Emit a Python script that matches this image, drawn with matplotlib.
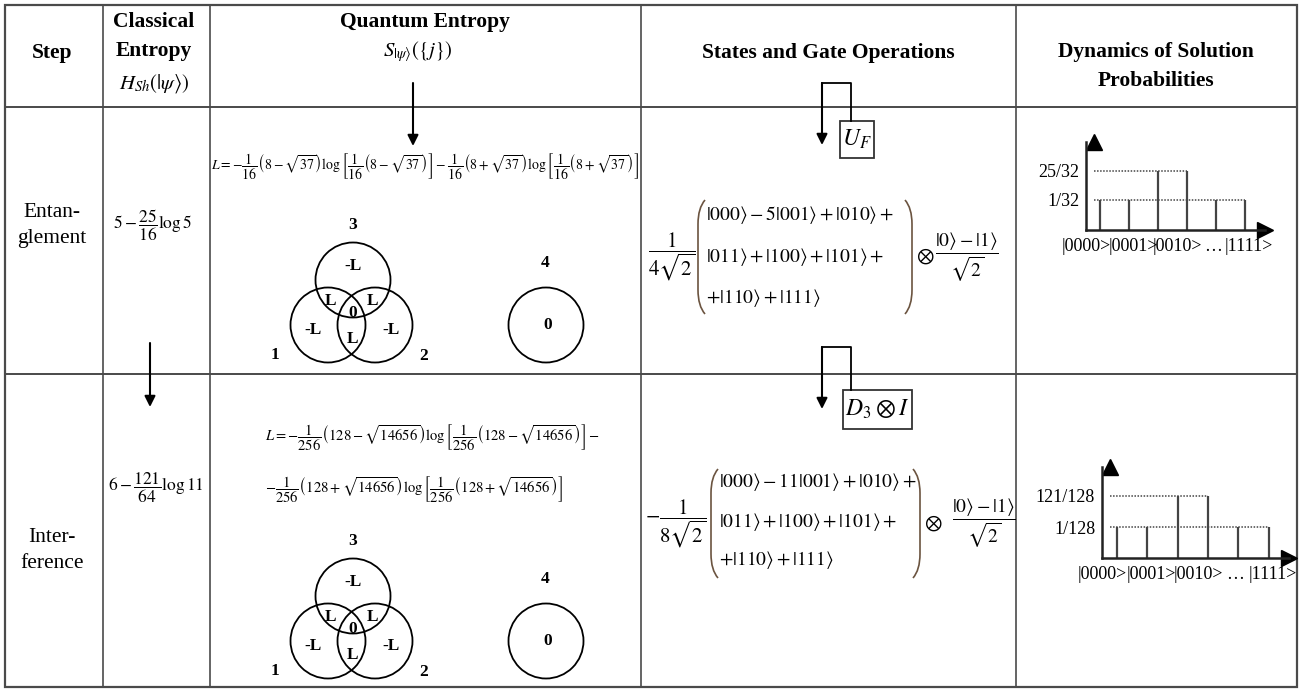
import matplotlib
matplotlib.use("Agg")
from matplotlib import pyplot as plt
from matplotlib.patches import Circle, Rectangle, PathPatch
from matplotlib.path import Path
from fractions import Fraction

plt.rcParams['font.family'] = 'serif'
plt.rcParams['font.serif'] = ['Liberation Serif', 'DejaVu Serif']
plt.rcParams['mathtext.fontset'] = 'stix'

# ---- table content ----
steps = ["Entan-\nglement", "Inter-\nference"]
classical = [r"$5-\dfrac{25}{16}\log 5$", r"$6-\dfrac{121}{64}\log 11$"]
quantum_L = [
    [r"$L=-\dfrac{1}{16}\left(8-\sqrt{37}\right)\log\left[\dfrac{1}{16}\left(8-\sqrt{37}\right)\right]"
     r"-\dfrac{1}{16}\left(8+\sqrt{37}\right)\log\left[\dfrac{1}{16}\left(8+\sqrt{37}\right)\right]$"],
    [r"$L=-\dfrac{1}{256}\left(128-\sqrt{14656}\right)\log\left[\dfrac{1}{256}\left(128-\sqrt{14656}\right)\right]-$",
     r"$-\dfrac{1}{256}\left(128+\sqrt{14656}\right)\log\left[\dfrac{1}{256}\left(128+\sqrt{14656}\right)\right]$"],
]
gates = [r"$U_F$", r"$D_3\otimes I$"]
state_prefix = [r"$\dfrac{1}{4\sqrt{2}}$", r"$-\dfrac{1}{8\sqrt{2}}$"]
state_lines = [
    [r"$|000\rangle-5|001\rangle+|010\rangle+$", r"$|011\rangle+|100\rangle+|101\rangle+$",
     r"$+|110\rangle+|111\rangle$"],
    [r"$|000\rangle-11|001\rangle+|010\rangle+$", r"$|011\rangle+|100\rangle+|101\rangle+$",
     r"$+|110\rangle+|111\rangle$"],
]
ancilla = r"$\dfrac{|0\rangle-|1\rangle}{\sqrt{2}}$"
venn_values = ["-L", "L", "L", "0", "-L", "-L", "L"]
venn_single = "0"
venn_names = ["3", "1", "2", "4"]

states = ["|0000>", "|0001>", "|0010>", "\u2026", "|1111>"]
probs_ent = [Fraction(1, 32), Fraction(1, 32), Fraction(25, 32), Fraction(1, 32), Fraction(1, 32)]
probs_int = [Fraction(1, 128), Fraction(1, 128), Fraction(121, 128), Fraction(1, 128), Fraction(1, 128)]

W, H = 1301, 691
fig = plt.figure(figsize=(W / 100, H / 100), dpi=100)
ax = fig.add_axes([0, 0, 1, 1])
ax.set_xlim(0, W)
ax.set_ylim(H, 0)
ax.axis('off')

# ---- grid ----
lc = '#4a4a4a'
ax.add_patch(Rectangle((5, 5), 1292, 682, fill=False, ec=lc, lw=1.6))
for x in [103, 210, 641, 1016]:
    ax.plot([x, x], [5, 687], color=lc, lw=1.2)
for y in [107, 374]:
    ax.plot([5, 1297], [y, y], color=lc, lw=1.4)

# ---- header ----
hb = dict(fontsize=15.5, fontweight='bold', ha='center', va='center')
ax.text(52, 53, "Step", **hb)
ax.text(154, 22, "Classical", **hb)
ax.text(154, 51, "Entropy", **hb)
ax.text(154, 84, r"$H_{Sh}\left(|\psi\rangle\right)$", fontsize=15, ha='center', va='center')
ax.text(425, 22, "Quantum Entropy", **hb)
ax.text(418, 52, r"$S_{|\psi\rangle}\left(\{j\}\right)$", fontsize=15, ha='center', va='center')
ax.text(828, 53, "States and Gate Operations", **hb)
ax.text(1156, 52, "Dynamics of Solution", **hb)
ax.text(1156, 81, "Probabilities", **hb)

# ---- step names and classical entropy ----
for name, y in zip(steps, [225, 551]):
    ax.text(52, y, name, fontsize=15.5, ha='center', va='center', linespacing=1.5)
for expr, (x, y) in zip(classical, [(153, 225), (156, 488)]):
    ax.text(x, y, expr, fontsize=12.5, ha='center', va='center')

arrow = dict(arrowstyle='-|>', color='k', lw=1.5, mutation_scale=16, shrinkA=0, shrinkB=0)
ax.annotate("", xy=(150, 407), xytext=(150, 343), arrowprops=arrow)
ax.annotate("", xy=(413, 146), xytext=(413, 83), arrowprops=arrow)

# ---- quantum entropy formulas ----
ax.text(425, 167, quantum_L[0][0], fontsize=10, ha='center', va='center')
ax.text(265, 438, quantum_L[1][0], fontsize=10.5, ha='left', va='center')
ax.text(265, 490, quantum_L[1][1], fontsize=10.5, ha='left', va='center')


def venn(cx, cy):
    r = 37.5
    for dx, dy in [(0, 0), (-25, 45), (22, 45), (193, 45)]:
        ax.add_patch(Circle((cx + dx, cy + dy), r, fill=False, ec='k', lw=1.3))
    bold = dict(fontsize=12.5, fontweight='bold', ha='center', va='center')
    for v, (dx, dy) in zip(venn_values, [(0, -14), (-23, 21), (19, 21), (0, 33),
                                         (-40, 50), (38, 50), (-1, 59)]):
        ax.text(cx + dx, cy + dy, v, **bold)
    ax.text(cx + 195, cy + 45, venn_single, **bold)
    for v, (dx, dy) in zip(venn_names, [(0, -55), (-78, 75), (71, 76), (192, -17)]):
        ax.text(cx + dx, cy + dy, v, **bold)


venn(353, 280)
venn(353, 596)

# ---- gates and states ----
def gate(label, top, box):
    ax.plot([822, 851, 851], [top, top, box[1]], color='k', lw=1.3)
    ax.annotate("", xy=(822, top + 62), xytext=(822, top), arrowprops=arrow)
    x0, y0, x1, y1 = box
    ax.add_patch(Rectangle((x0, y0), x1 - x0, y1 - y0, fill=False, ec='#333', lw=1.3))
    ax.text((x0 + x1) / 2, (y0 + y1) / 2, label, fontsize=17, ha='center', va='center')


gate(gates[0], 83, (840, 121, 874, 158))
gate(gates[1], 347, (843, 390, 912, 429))


def paren(x, y0, y1, d):
    verts = [(x + d * 7, y0), (x, y0 + 8), (x, y0 + 24), (x, y1 - 24), (x, y1 - 8), (x + d * 7, y1)]
    codes = [Path.MOVETO, Path.CURVE3, Path.CURVE3, Path.LINETO, Path.CURVE3, Path.CURVE3]
    ax.add_patch(PathPatch(Path(verts, codes), fill=False, ec='#6b5440', lw=1.2))


def state(i, px, lx, rx, y0, y1, ys, ox, fx):
    yc = (y0 + y1) / 2
    ax.text(px, yc, state_prefix[i], fontsize=15, ha='center', va='center')
    paren(lx, y0, y1, 1)
    paren(rx, y0, y1, -1)
    for s, y in zip(state_lines[i], ys):
        ax.text(lx + 8, y, s, fontsize=14, ha='left', va='center')
    ax.text(ox, yc, r"$\otimes$", fontsize=15, ha='center', va='center')
    ax.text(fx, yc, ancilla, fontsize=14, ha='center', va='center')


state(0, 672, 698, 912, 200, 314, [215, 257, 298], 925, 967)
state(1, 676, 711, 920, 469, 578, [482, 522, 560], 933, 984)

# ---- probability sketches ----
label_pos = [-0.27, 1.35, 2.9, 4.13, 5.35]


def prob_chart(left, axis_y, unit_x, unit_y, probs):
    n = len(probs)
    xmax, ymax = 5.9, 2.95
    cax = fig.add_axes([left / W, (H - axis_y) / H, xmax * unit_x / W, ymax * unit_y / H])
    cax.patch.set_alpha(0)
    levels = sorted(set(probs))
    rank = [levels.index(p) + 1 for p in probs]
    edges = [0.23 + i for i in range(n + 1)]
    edge_h = [max(rank[max(i - 1, 0)], rank[min(i, n - 1)]) for i in range(n + 1)]
    cax.vlines(edges, 0, edge_h, color='#444', lw=1.6)
    for k in range(1, len(levels) + 1):
        last = max(e for e, h in zip(edges, edge_h) if h >= k)
        cax.hlines(k, 0, last, colors='#444', linestyles=(0, (1, 1)), lw=1.1)
    cax.set_xlim(0, xmax)
    cax.set_ylim(0, ymax)
    for s in ['top', 'right']:
        cax.spines[s].set_visible(False)
    for s in ['left', 'bottom']:
        cax.spines[s].set_linewidth(1.8)
        cax.spines[s].set_color('#222')
    cax.plot(1, 0, '>', color='k', ms=12, transform=cax.get_yaxis_transform(), clip_on=False)
    cax.plot(0, 1, '^', color='k', ms=12, transform=cax.get_xaxis_transform(), clip_on=False)
    cax.set_yticks(range(1, len(levels) + 1), [str(l) for l in levels], fontsize=13)
    cax.set_xticks(label_pos, states, fontsize=13)
    cax.tick_params(length=0)
    cax.tick_params(axis='y', pad=5)
    cax.tick_params(axis='x', pad=6)


prob_chart(1086, 229.5, 30.3, 29.5, probs_ent)
prob_chart(1102, 558, 31.7, 31, probs_int)

fig.savefig("out.png", dpi=100)
